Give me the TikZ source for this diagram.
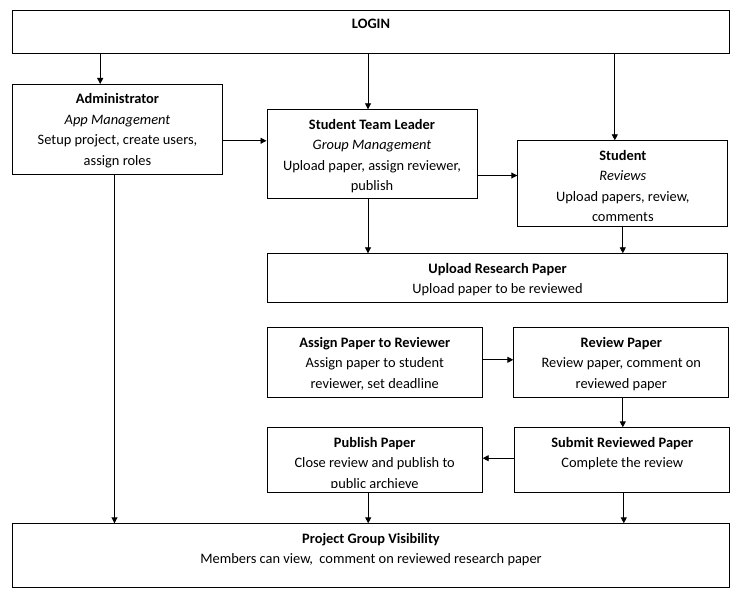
\documentclass[tikz,border=0pt]{standalone}
\usepackage{fontspec}
\setmainfont{Carlito}
\usetikzlibrary{arrows.meta,positioning,calc}
\def\textsize{14.4}
\def\textskip{20.5}
\def\colw{215pt}

\begin{document}
\begin{tikzpicture}[x=1pt,y=-1pt,myarrow/.style={-{Triangle[length=6pt,width=6pt]},line width=0.9pt}]
    \tikzstyle{stage}=[draw=black,line width=1pt,rectangle,anchor=north west,inner sep=0pt]
    \tikzstyle{caption}=[anchor=north,align=center,inner sep=0pt,yshift=-9.5pt,
        font=\fontsize{\textsize}{\textskip}\selectfont]
    \useasboundingbox (0,0) rectangle (751,601);

    % Draw the boxes
    \node[stage,minimum width=717pt,minimum height=43pt] (login) at (12,10) {};
    \node[stage,minimum width=210pt,minimum height=90pt] (admin) at (12,84) {};
    \node[stage,minimum width=210pt,minimum height=89pt] (leader) at (266.5,109.3) {};
    \node[stage,minimum width=210pt,minimum height=86pt] (student) at (517.3,140.3) {};
    \node[stage,minimum width=460.6pt,minimum height=49pt] (upload) at (266.7,253.3) {};
    \node[stage,minimum width=\colw,minimum height=70pt] (assign) at (266.7,327.3) {};
    \node[stage,minimum width=\colw,minimum height=70pt] (review) at (513.3,327.3) {};
    \node[stage,minimum width=\colw,minimum height=64.4pt] (publish) at (266.7,427.3) {};
    \node[stage,minimum width=\colw,minimum height=64.4pt] (submit) at (514.3,427.3) {};
    \node[stage,minimum width=717pt,minimum height=64pt] (visibility) at (12,523.3) {};

    % Write the texts
    \node[caption] (login-t) at ([yshift=1pt]login.north) {\textbf{LOGIN}};
    \node[caption] (admin-t) at (admin.north)
        {\textbf{Administrator}\\\textit{App Management}\\Setup project, create users,\\assign roles};
    \node[caption] (leader-t) at (leader.north)
        {\textbf{Student Team Leader}\\\textit{Group Management}\\Upload paper, assign reviewer,\\publish};
    \node[caption] (student-t) at (student.north)
        {\textbf{Student}\\\textit{Reviews}\\Upload papers, review,\\comments};
    \node[caption] (upload-t) at (upload.north)
        {\textbf{Upload Research Paper}\\Upload paper to be reviewed};
    \node[caption] (assign-t) at (assign.north)
        {\textbf{Assign Paper to Reviewer}\\Assign paper to student\\reviewer, set deadline};
    \node[caption] (review-t) at (review.north)
        {\textbf{Review Paper}\\Review paper, comment on\\reviewed paper};
    \begin{scope}
        \clip (publish.north west) rectangle ([yshift=5pt]publish.south east);
        \node[caption] (publish-t) at (publish.north)
            {\textbf{Publish Paper}\\Close review and publish to\\public archieve};
    \end{scope}
    \node[caption] (submit-t) at (submit.north)
        {\textbf{Submit Reviewed Paper}\\Complete the review};
    \node[caption] (visibility-t) at (visibility.north)
        {\textbf{Project Group Visibility}\\Members can view,\ \ comment on reviewed research paper};

    % Connect every node
    \draw[myarrow] ([xshift=-17.3pt]admin.north |- login.south) -- ([xshift=-17.3pt]admin.north);
    \draw[myarrow] ([xshift=-4pt]leader.north |- login.south) -- ([xshift=-4pt]leader.north);
    \draw[myarrow] ([xshift=-8pt]student.north |- login.south) -- ([xshift=-8pt]student.north);

    \draw[myarrow] ([yshift=-11.3pt]admin.east) -- ([yshift=-11.3pt]admin.east -| leader.west);
    \draw[myarrow] ([yshift=-21.2pt]leader.east) -- ([yshift=-21.2pt]leader.east -| student.west);

    \draw[myarrow] ([xshift=-4pt]leader.south) -- ([xshift=-4pt]leader.south |- upload.north);
    \draw[myarrow] (student.south) -- (student.south |- upload.north);

    \draw[myarrow] ([yshift=3pt]assign.east) -- ([yshift=3pt]assign.east -| review.west);
    \draw[myarrow] ([xshift=1.5pt]review.south) -- ([xshift=1.5pt]review.south |- submit.north);
    \draw[myarrow] ([yshift=1.8pt]submit.west) -- ([yshift=1.8pt]submit.west -| publish.east);

    \draw[myarrow] ([xshift=-3pt]admin.south) -- ([xshift=-3pt]admin.south |- visibility.north);
    \draw[myarrow] ([xshift=-6.5pt]publish.south) -- ([xshift=-6.5pt]publish.south |- visibility.north);
    \draw[myarrow] ([xshift=1.5pt]submit.south) -- ([xshift=1.5pt]submit.south |- visibility.north);
\end{tikzpicture}
\end{document}
